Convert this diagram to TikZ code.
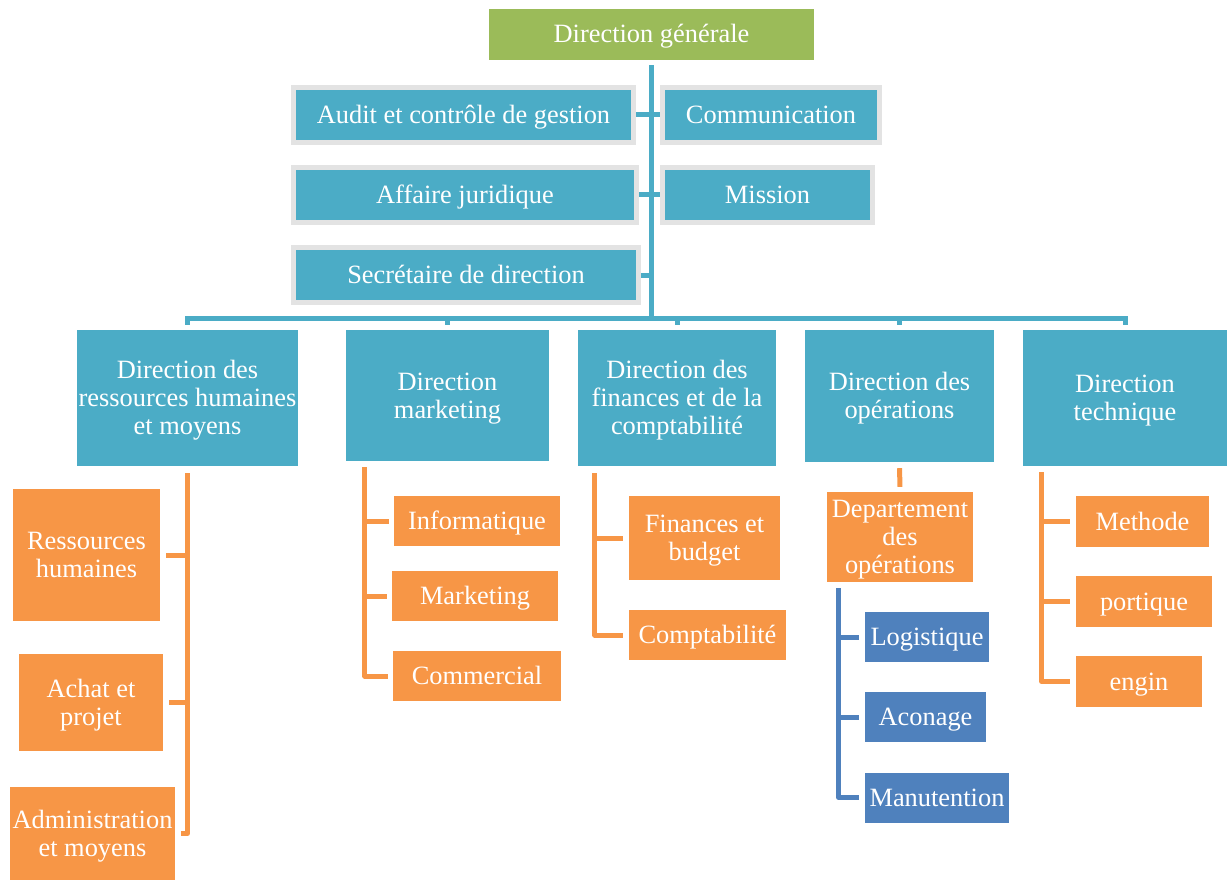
\documentclass[tikz,border=0pt]{standalone}
\usepackage{fontspec}
\setmainfont{Liberation Serif}
\definecolor{aqua}{HTML}{4BACC6}
\definecolor{orng}{HTML}{F79646}
\definecolor{grn}{HTML}{9BBB59}
\definecolor{dblue}{HTML}{4F81BD}
\definecolor{framegray}{HTML}{E3E3E3}
% struts fixing the height of the first line and the depth of the last line
\newcommand\tstr{\rule{0pt}{24pt}}
\newcommand\bstr{\rule[-7pt]{0pt}{7pt}}
\begin{document}
\begin{tikzpicture}[x=1pt,y=-1pt,
  base/.style={inner sep=0pt, text=white, align=center, font=\fontsize{26.4pt}{28pt}\selectfont},
  topbox/.style={base, fill=grn},
  staffbox/.style={base, fill=aqua, draw=framegray, line width=5pt, minimum height=55pt},
  dirbox/.style={base, fill=aqua},
  subbox/.style={base, fill=orng},
  unitbox/.style={base, fill=dblue, minimum height=50pt},
  bline/.style={draw=aqua, line width=5pt},
  oline/.style={draw=orng, line width=5pt, line join=round},
  dline/.style={draw=dblue, line width=5pt, line join=round},
]
\useasboundingbox (0,0) rectangle (1227,880);

% top
\node[topbox, minimum width=325pt, minimum height=51pt] (dg) at (651.5,34.5) {\tstr Direction générale\bstr};

% staff
\node[staffbox, minimum width=340pt] (audit) at (463.5,115) {\tstr Audit et contrôle de gestion\bstr};
\node[staffbox, minimum width=217pt] (comm) at (771,115) {\tstr Communication\bstr};
\node[staffbox, minimum width=343pt] (jur) at (465,195) {\tstr Affaire juridique\bstr};
\node[staffbox, minimum width=210pt] (miss) at (767.5,195) {\tstr Mission\bstr};
\node[staffbox, minimum width=345pt] (sec) at (466,275) {\tstr Secrétaire de direction\bstr};

% directions
\node[dirbox, minimum width=221pt, minimum height=136pt] (drh) at (187.5,398) {\tstr Direction des\\ressources humaines\\et moyens\bstr};
\node[dirbox, minimum width=203pt, minimum height=131pt] (mkt) at (447.5,395.5) {\tstr Direction\\marketing\bstr};
\node[dirbox, minimum width=198pt, minimum height=136pt] (fin) at (677,398) {\tstr Direction des\\finances et de la\\comptabilité\bstr};
\node[dirbox, minimum width=189pt, minimum height=132pt] (ops) at (899.5,396) {\tstr Direction des\\opérations\bstr};
\node[dirbox, minimum width=204pt, minimum height=136pt] (tech) at (1125,398) {\tstr Direction\\technique\bstr};

% trunk and bus
\coordinate (bus) at (651.5,318);
\draw[bline] ([yshift=-5pt]dg.south) -- (bus);
\draw[bline] (audit.east) -- (comm.west);
\draw[bline] (jur.east) -- (miss.west);
\draw[bline] (sec.east) -- (sec.east -| bus);
\foreach \n in {drh,mkt,fin,ops,tech} \draw[bline] (bus) -| ([yshift=5pt]\n.north);

% DRH
\node[subbox, minimum width=147pt, minimum height=132pt] (rh) at (86.5,555) {\tstr Ressources\\humaines\bstr};
\node[subbox, minimum width=144pt, minimum height=97pt] (achat) at (91,702.5) {\tstr Achat et\\projet\bstr};
\node[subbox, minimum width=165pt, minimum height=93pt] (admin) at (92.5,833.5) {\tstr Administration\\et moyens\bstr};
\coordinate (drhv) at ([yshift=-7pt]drh.south);
\foreach \c in {rh,achat,admin} \draw[oline] (drhv) |- ([xshift=6pt]\c.east);

% marketing
\node[subbox, minimum width=166pt, minimum height=50pt] (info) at (477,521) {\tstr Informatique\bstr};
\node[subbox, minimum width=166pt, minimum height=50pt] (mark) at (475,596) {\tstr Marketing\bstr};
\node[subbox, minimum width=168pt, minimum height=50pt] (comc) at (477,676) {\tstr Commercial\bstr};
\coordinate (mktv) at ([xshift=19pt,yshift=-6pt]mkt.south west);
\foreach \c in {info,mark,comc} \draw[oline] (mktv) |- ([xshift=-5pt]\c.west);

% finances
\node[subbox, minimum width=151pt, minimum height=84pt] (finb) at (704.5,538) {\tstr Finances et\\budget\bstr};
\node[subbox, minimum width=157pt, minimum height=50pt] (compta) at (707.5,635) {\tstr Comptabilité\bstr};
\coordinate (finv) at ([xshift=17pt,yshift=-7pt]fin.south west);
\foreach \c in {finb,compta} \draw[oline] (finv) |- ([xshift=-6pt]\c.west);

% operations
\node[subbox, minimum width=146pt, minimum height=90pt] (dept) at (900,537) {\tstr Departement\\des\\opérations\bstr};
\draw[oline] ([yshift=-6pt]ops.south) -- ([yshift=5pt]dept.north);
\node[unitbox, minimum width=124pt] (logi) at (927,637) {\tstr Logistique\bstr};
\node[unitbox, minimum width=121pt] (acon) at (925.5,717) {\tstr Aconage\bstr};
\node[unitbox, minimum width=144pt] (manu) at (937,797.5) {\tstr Manutention\bstr};
\coordinate (deptv) at ([xshift=12pt,yshift=-6pt]dept.south west);
\foreach \c in {logi,acon,manu} \draw[dline] (deptv) |- ([xshift=-6pt]\c.west);

% technique
\node[subbox, minimum width=133pt, minimum height=51pt] (meth) at (1142.5,521.5) {\tstr Methode\bstr};
\node[subbox, minimum width=136pt, minimum height=51pt] (port) at (1144,601.5) {\tstr portique\bstr};
\node[subbox, minimum width=126pt, minimum height=51pt] (engin) at (1139,681.5) {\tstr engin\bstr};
\coordinate (techv) at ([xshift=19pt,yshift=-6pt]tech.south west);
\foreach \c in {meth,port,engin} \draw[oline] (techv) |- ([xshift=-6pt]\c.west);
\end{tikzpicture}
\end{document}
